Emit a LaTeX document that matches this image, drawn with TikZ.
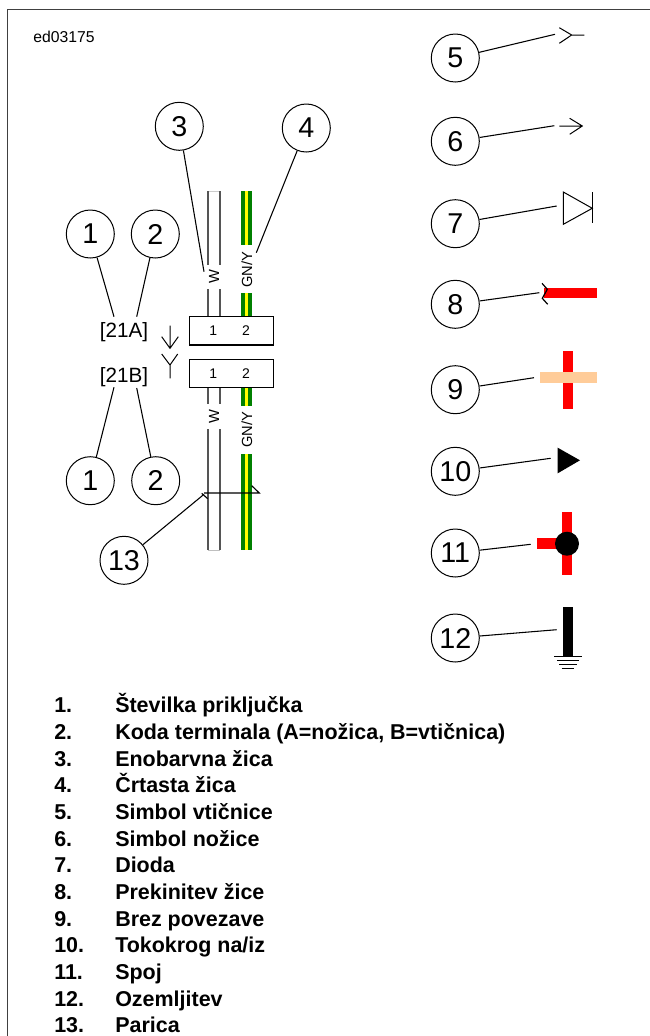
\documentclass[tikz,border=0pt]{standalone}
\usepackage{fontspec}
\setmainfont{Liberation Sans}
\definecolor{wiregray}{HTML}{555555}
\definecolor{wiregreen}{HTML}{008000}
\definecolor{wireyellow}{HTML}{FFFF00}
\definecolor{peach}{HTML}{FFCC99}
\tikzset{
  num/.style={circle,draw=black,line width=0.75pt,minimum size=36pt,inner sep=0pt,font=\fontsize{21.5}{25}\selectfont},
  conn/.style={draw=black,line width=0.8pt},
  sym/.style={draw=black,line width=0.75pt},
  wirel/.style={draw=wiregray,line width=1.1pt},
  term/.style={inner sep=0pt,font=\fontsize{15.5}{18}\selectfont},
  pin/.style={inner sep=0pt,font=\fontsize{10.5}{12}\selectfont},
  wlab/.style={inner sep=0pt,rotate=90,font=\fontsize{11}{13}\selectfont},
  conbox/.style={draw=black,line width=0.8pt,fill=white},
  leg/.style={inner sep=0pt,anchor=base west,font=\fontsize{16.1}{19}\bfseries\selectfont},
}
\newcommand{\gwire}[2]{%
  \fill[wiregreen] (241,#1) rectangle (252,#2);
  \fill[wireyellow] (244.6,#1) rectangle (248.4,#2);}
\begin{document}
\begin{tikzpicture}[x=0.75pt,y=-0.75pt]
\useasboundingbox (0,0) rectangle (650,1036);
% frame
\draw[draw=black!75,line width=1.1pt] (7.5,1036) -- (7.5,9.5) -- (650,9.5);
\node[inner sep=0pt,anchor=base west,font=\fontsize{11.8}{14}\selectfont] (code) at (33,42.7) {ed03175};

% wires top
\draw[draw=black!20,line width=0.5pt] (208,191) -- (220,191);
\draw[wirel] (208,191) -- (208,265) (220,191) -- (220,265);
\draw[wirel] (208,289) -- (208,317) (220,289) -- (220,317);
\gwire{191}{245}
\gwire{293}{317}
% wires bottom
\draw[wirel] (208,387) -- (208,404) (220,387) -- (220,404);
\draw[wirel] (208,429.3) -- (208,550) (220,429.3) -- (220,550);
\draw[draw=black!25,line width=0.6pt] (208,550) -- (220,550);
\gwire{387}{406}
\gwire{454}{550}

\node[wlab] (w1) at (214,277) {W};
\node[wlab] (gy1) at (247,269.5) {GN/Y};
\node[wlab] (w2) at (214,417) {W};
\node[wlab] (gy2) at (247,430) {GN/Y};

% connector boxes
\draw[conbox] (189.3,316.7) rectangle (273.7,345);
\draw[conbox] (189.3,359.3) rectangle (273.7,387.3);
\node[pin] (p1a) at (213.3,331) {1};
\node[pin] (p2a) at (246,331) {2};
\node[pin] (p1b) at (213.3,373.5) {1};
\node[pin] (p2b) at (246,373.5) {2};

\node[term] (t21a) at (124,331.7) {[21A]};
\node[term] (t21b) at (124,376.7) {[21B]};

% pin and socket symbols
\draw[sym] (170,325.7) -- (170,348.3) (161.7,336.7) -- (170,348.3) -- (178.3,336.7);
\draw[sym] (161.7,354) -- (170,365) -- (177.7,354) (170,365) -- (170,378.3);

% twist
\draw[sym,line width=0.85pt] (201.7,493.3) -- (207.7,498.7);
\draw[sym,line width=0.85pt] (204,493) -- (259.3,493) -- (251.7,485.7);

% circles
\node[num] (c1) at (90.3,234) {1};
\node[num] (c2) at (155.3,234) {2};
\node[num] (c3) at (179.3,126.3) {3};
\node[num] (c4) at (306.3,128) {4};
\node[num] (c1b) at (90.3,480.7) {1};
\node[num] (c2b) at (155.7,480.7) {2};
\node[num] (c13) at (124,560.3) {13};
\node[num] (c5) at (455.3,58) {5};
\node[num] (c6) at (455.3,141.3) {6};
\node[num] (c7) at (455.3,223.7) {7};
\node[num] (c8) at (455.3,304.3) {8};
\node[num] (c9) at (455.3,389.7) {9};
\node[num] (c10) at (455.3,471.3) {10};
\node[num] (c11) at (455.3,553) {11};
\node[num] (c12) at (455.3,638) {12};

% connector ends
\coordinate (e1) at (114,316.7);
\coordinate (e2) at (136.7,316.7);
\coordinate (e3) at (204,271.7);
\coordinate (e4) at (256.3,252.7);
\coordinate (e1b) at (114,387.3);
\coordinate (e2b) at (136.7,388);
\coordinate (e13) at (204,494.3);
\coordinate (e5) at (555,34.3);
\coordinate (e6) at (554.3,125.7);
\coordinate (e7) at (556.7,206);
\coordinate (e8) at (539.3,292.7);
\coordinate (e9) at (534,377.7);
\coordinate (e10) at (550.7,458.3);
\coordinate (e11) at (530.7,544.3);
\coordinate (e12) at (556.7,629.7);
\foreach \a/\b in {c1/e1,c2/e2,c3/e3,c4/e4,c1b/e1b,c2b/e2b,c13/e13,c5/e5,c6/e6,c7/e7,c8/e8,c9/e9,c10/e10,c11/e11,c12/e12}
  \draw[conn] (\a) -- (\b);

% symbol 5
\draw[sym] (559.3,27.7) -- (571.7,35) -- (559.3,43.3) (571.7,35) -- (584.3,35);
% symbol 6
\draw[sym] (559.3,126) -- (582.3,126) (569.7,118.3) -- (582.3,126) -- (569.7,134.3);
% symbol 7
\draw[sym] (563.3,192) -- (592.3,208.3) -- (563.3,224.3) -- cycle;
\draw[sym] (592.3,192.3) -- (592.3,222.7);
% symbol 8
\fill[red] (544,288) rectangle (596.7,298.3);
\draw[sym,line width=0.9pt] (542,283.3) -- (547.3,289.3) -- (542.3,298.3) -- (547.7,304.3);
% symbol 9
\fill[red] (562.7,351.3) rectangle (573.3,408.7);
\fill[peach] (539.7,372.3) rectangle (597,382.7);
% symbol 10
\fill[black] (557.7,447.7) -- (580,460.3) -- (557.7,473.3) -- cycle;
% symbol 11
\fill[red] (561.7,512.3) rectangle (572.3,575.3);
\fill[red] (537.3,538.3) rectangle (567,549);
\fill[black] (567,543.7) circle[radius=12];
% symbol 12
\fill[black] (562.7,606.7) rectangle (573.3,656.7);
\draw[sym] (554.3,656.7) -- (581.7,656.7) (557,660.7) -- (579,660.7) (559.3,664.3) -- (576.7,664.3) (561.7,668) -- (574.3,668);

% legend
\foreach \i/\n/\t in {0/1/Številka priključka,1/2/{Koda terminala (A=nožica, B=vtičnica)},2/3/Enobarvna žica,3/4/Črtasta žica,4/5/Simbol vtičnice,5/6/Simbol nožice,6/7/Dioda,7/8/Prekinitev žice,8/9/Brez povezave,9/10/{Tokokrog na{/}iz},10/11/Spoj,11/12/Ozemljitev,12/13/Parica}{
  \node[leg] (ln\n) at (54,712.7+26.67*\i) {\n.};
  \node[leg] (lt\n) at (115,712.7+26.67*\i) {\t};
}
\end{tikzpicture}
\end{document}
